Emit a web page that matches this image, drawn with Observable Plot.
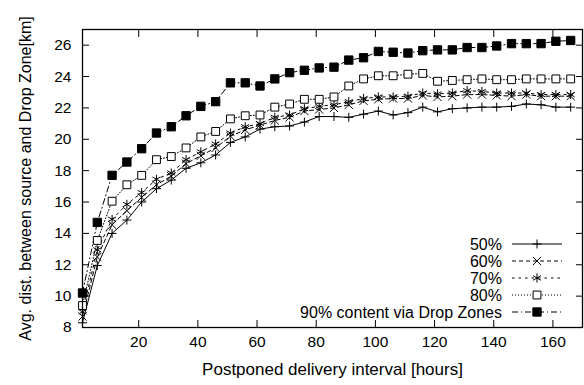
<!DOCTYPE html>
<html><head><meta charset="utf-8">
<script src="https://cdn.jsdelivr.net/npm/d3@7"></script>
<script src="https://cdn.jsdelivr.net/npm/@observablehq/plot@0.6"></script>
<style>body{margin:0;background:#fff}</style>
</head><body><div id="chart"></div>
<script>
const hours = [1,6,11,16,21,26,31,36,41,46,51,56,61,66,71,76,81,86,91,96,101,106,111,116,121,126,131,136,141,146,151,156,161,166];
const p50 = [8.3,11.95,14.0,14.85,16.0,16.85,17.4,18.15,18.5,19.0,19.8,20.15,20.65,20.8,20.85,21.1,21.45,21.45,21.4,21.6,21.8,21.55,21.7,22.05,21.75,21.95,22.0,22.05,22.05,22.1,22.25,22.2,22.05,22.05];
const p60 = [8.7,12.5,14.55,15.45,16.3,17.1,17.65,18.45,18.95,19.45,20.2,20.6,20.9,21.2,21.4,21.8,21.9,22.0,22.2,22.45,22.55,22.6,22.6,22.8,22.7,22.75,22.85,22.85,22.8,22.75,22.85,22.75,22.75,22.75];
const p70 = [9.0,12.95,14.9,15.85,16.6,17.45,17.85,18.7,19.2,19.7,20.4,20.8,21.0,21.4,21.55,21.95,22.1,22.2,22.4,22.6,22.7,22.7,22.75,22.95,22.9,22.95,23.1,23.05,22.95,22.95,22.95,22.85,22.85,22.85];
const p80 = [9.4,13.55,16.05,17.1,17.7,18.7,18.9,19.45,20.15,20.5,21.3,21.5,21.55,22.05,22.25,22.55,22.55,22.7,23.4,23.85,24.05,24.05,24.15,24.2,23.7,23.75,23.8,23.85,23.8,23.8,23.85,23.85,23.85,23.85];
const p90 = [10.2,14.7,17.7,18.55,19.4,20.4,20.8,21.5,22.1,22.4,23.6,23.6,23.4,23.85,24.25,24.4,24.55,24.6,25.05,25.2,25.6,25.55,25.5,25.65,25.7,25.7,25.85,25.85,25.95,26.1,26.1,26.1,26.25,26.3];
const seriesNames = ["50%","60%","70%","80%","90% content via Drop Zones"];
const xTicks = [20,40,60,80,100,120,140,160];
const yTicks = [8,10,12,14,16,18,20,22,24,26];
const xLabel = "Postponed delivery interval [hours]";
const yLabel = "Avg. dist. between source and Drop Zone[km]";

const seriesValues = [p50,p60,p70,p80,p90];
const styles = [
  {dash: null, symbol: "plus", d3sym: d3.symbolPlus, r: 3.0, fill: "none"},
  {dash: "4,3", symbol: "times", d3sym: d3.symbolTimes, r: 3.8, fill: "none"},
  {dash: "2.5,4", symbol: "asterisk", d3sym: d3.symbolAsterisk, r: 4.3, fill: "none"},
  {dash: "1,2", symbol: "square2", d3sym: d3.symbolSquare2, r: 5, fill: "white"},
  {dash: "6,3,1,3", symbol: "square", d3sym: d3.symbolSquare, r: 4.7, fill: "black"}
];
const FONT = "'Liberation Sans', Arial, Helvetica, sans-serif";

const marks = [];
seriesValues.forEach((vals, i) => {
  const data = hours.map((h, j) => ({h, v: vals[j], s: seriesNames[i]}));
  marks.push(Plot.line(data, {x: "h", y: "v", stroke: "black", strokeWidth: 1, strokeDasharray: styles[i].dash}));
});
seriesValues.forEach((vals, i) => {
  const data = hours.map((h, j) => ({h, v: vals[j], s: seriesNames[i]}));
  const st = styles[i];
  marks.push(Plot.dot(data, {x: "h", y: "v", symbol: st.symbol, r: st.r,
    stroke: "black", strokeWidth: 1, fill: st.fill}));
});

const chart = Plot.plot({
  width: 584, height: 385,
  marginLeft: 82, marginRight: 2, marginTop: 29, marginBottom: 58,
  style: {fontFamily: FONT, fontSize: "15.5px", color: "black", background: "white"},
  x: {domain: [1, 170]},
  y: {domain: [8, 27]},
  marks: [
    Plot.axisX(xTicks, {anchor: "bottom", tickSize: 0, tickPadding: 8, label: null, fill: "black"}),
    Plot.axisX(xTicks, {anchor: "bottom", tickSize: -7, tickFormat: () => "", label: xLabel, labelAnchor: "center", labelOffset: 47, labelArrow: "none", fontSize: 17}),
    Plot.axisX(xTicks, {anchor: "top", tickSize: -7, tickFormat: () => "", label: null}),
    Plot.axisY(yTicks, {anchor: "left", tickSize: 0, tickPadding: 11, label: null, fill: "black"}),
    Plot.axisY(yTicks, {anchor: "left", tickSize: -7, tickFormat: () => "", label: yLabel, labelAnchor: "center", labelOffset: 63, labelArrow: "none", fontSize: 16}),
    Plot.axisY(yTicks, {anchor: "right", tickSize: -7, tickFormat: () => "", label: null}),
    ...marks,
    Plot.frame({stroke: "black", strokeWidth: 1.3})
  ]
});
document.getElementById("chart").appendChild(chart);

// legend (inside, bottom-right)
const svg = d3.select(chart);
const lg = svg.append("g").attr("font-family", FONT).attr("font-size", 16);
const ly0 = 244, ldy = 17, textX = 502, lx1 = 512, lx2 = 562;
seriesNames.forEach((name, i) => {
  const y = ly0 + i * ldy;
  const st = styles[i];
  lg.append("text").attr("x", textX).attr("y", y).attr("dy", "0.35em").attr("text-anchor", "end").attr("fill", "black").text(name);
  lg.append("line").attr("x1", lx1).attr("x2", lx2).attr("y1", y).attr("y2", y)
    .attr("stroke", "black").attr("stroke-width", 1).attr("stroke-dasharray", st.dash);
  lg.append("path").attr("transform", `translate(${(lx1 + lx2) / 2},${y})`)
    .attr("d", d3.symbol(st.d3sym, st.r * st.r * Math.PI)())
    .attr("stroke", "black").attr("stroke-width", 1).attr("fill", st.fill);
});
</script>
</body></html>
